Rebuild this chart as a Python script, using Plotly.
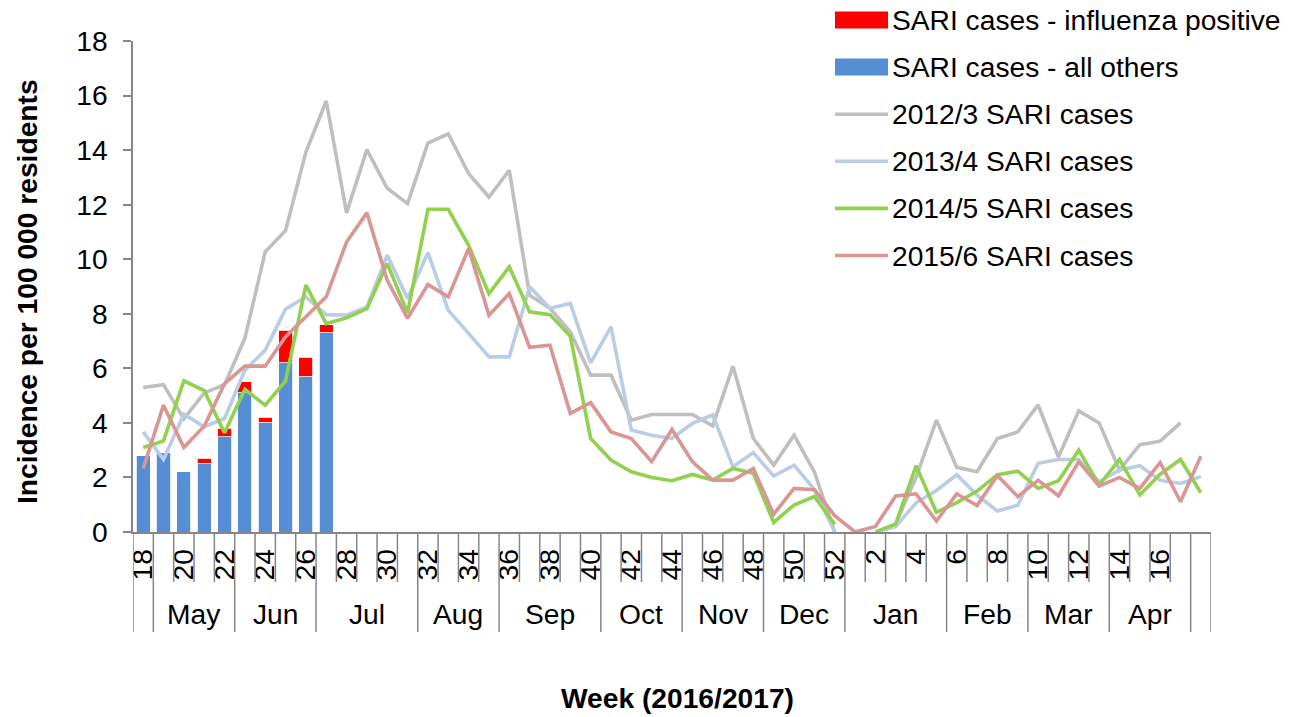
import plotly.graph_objects as go

# week axis: 18..52 of 2016, then 1..18 of 2017
weeks = list(range(18, 53)) + list(range(1, 19))
months = ['', 'May', 'Jun', 'Jul', 'Aug', 'Sep', 'Oct', 'Nov', 'Dec', 'Jan', 'Feb', 'Mar', 'Apr', '']
month_weeks = [1, 4, 4, 5, 4, 5, 4, 4, 4, 5, 4, 4, 4, 1]

# current season bars (weeks 18-27)
sari_flu = [0, 0, 0, 0.2, 0.3, 0.4, 0.2, 1.2, 0.7, 0.3]
sari_other = [2.8, 2.9, 2.2, 2.5, 3.5, 5.1, 4.0, 6.2, 5.7, 7.3]

# previous seasons
s2012 = [5.3, 5.4, 4.15, 5.1, 5.4, 7.1, 10.27, 11.05, 13.93, 15.8,
         11.7, 14.02, 12.6, 12.04, 14.26, 14.6, 13.14, 12.28, 13.26, 8.68,
         8.2, 7.34, 5.75, 5.75, 4.1, 4.31, 4.31, 4.31, 3.89, 6.08,
         3.43, 2.45, 3.55, 2.2, 0.0, None, None, 0.3, 2.0, 4.1,
         2.37, 2.21, 3.43, 3.67, 4.66, 2.75, 4.44, 4.0, 2.27, 3.2,
         3.33, 4.0, None]
s2013 = [3.67, 2.66, 4.32, 3.86, 4.16, 5.93, 6.67, 8.17, 8.62, 7.97,
         7.95, 8.25, 10.15, 8.56, 10.24, 8.13, 7.28, 6.42, 6.42, 8.99,
         8.2, 8.38, 6.2, 7.52, 3.74, 3.55, 3.43, 3.98, 4.29, 2.39,
         2.91, 2.05, 2.45, 1.56, 0.0, None, 0.0, 0.2, 1.07, 1.52,
         2.1, 1.35, 0.77, 0.98, 2.52, 2.66, 2.66, 1.84, 2.27, 2.43,
         1.9, 1.78, 2.03]
s2014 = [3.1, 3.34, 5.54, 5.18, 3.64, 5.23, 4.65, 5.54, 9.05, 7.64,
         7.85, 8.19, 9.84, 8.03, 11.83, 11.83, 10.51, 8.74, 9.72, 8.07,
         7.97, 7.18, 3.43, 2.64, 2.21, 2.0, 1.88, 2.11, 1.9, 2.33,
         2.15, 0.35, 0.99, 1.3, 0.28, None, 0.0, 0.3, 2.43, 0.72,
         1.08, 1.5, 2.1, 2.23, 1.6, 1.88, 3.0, 1.72, 2.66, 1.36,
         2.12, 2.66, 1.44]
s2015 = [2.33, 4.65, 3.1, 3.88, 5.44, 6.08, 6.08, 7.16, 7.89, 8.62,
         10.63, 11.7, 9.23, 7.83, 9.07, 8.62, 10.39, 7.95, 8.74, 6.77,
         6.85, 4.35, 4.74, 3.67, 3.43, 2.58, 3.76, 2.58, 1.9, 1.9,
         2.33, 0.65, 1.6, 1.55, 0.6, 0.0, 0.2, 1.32, 1.4, 0.4,
         1.4, 0.97, 2.07, 1.3, 1.9, 1.33, 2.58, 1.68, 2.0, 1.6,
         2.55, 1.11, 2.78]

bar_names = ['SARI cases - influenza positive', 'SARI cases - all others']
bar_colors = ['#FF0000', '#558ED5']
line_names = ['2012/3 SARI cases', '2013/4 SARI cases', '2014/5 SARI cases', '2015/6 SARI cases']
line_colors = ['#BFBFBF', '#B9CDE5', '#92D050', '#D99694']

FONT = 'Liberation Sans, Arial, sans-serif'
FS = 28.2
AXIS_COL = '#868686'

W, H = 1290, 717
L, R, T, B = 133, 79, 41, 185
PW, PH = W - L - R, H - T - B


def px(x):
    return (x - L) / PW


def py(y):
    return (H - B - y) / PH


idx = list(range(len(weeks)))
fig = go.Figure()

fig.add_trace(go.Bar(x=idx[:len(sari_other)], y=sari_other, marker_color=bar_colors[1],
                     marker_line=dict(color='white', width=0.8), width=0.69, showlegend=False))
fig.add_trace(go.Bar(x=idx[:len(sari_flu)], y=sari_flu, marker_color=bar_colors[0],
                     marker_line=dict(color='white', width=0.8), width=0.69, showlegend=False))

for vals, col in zip([s2012, s2013, s2014, s2015], line_colors):
    fig.add_trace(go.Scatter(x=idx, y=vals, mode='lines', connectgaps=False,
                             line=dict(color=col, width=3.6), showlegend=False))

# week tick labels: even weeks, last week left blank
tickvals = [i for i, w in enumerate(weeks) if w % 2 == 0 and i < len(weeks) - 1]
ticktext = [str(weeks[i]) for i in tickvals]

shapes = []
annotations = []

# category separators: short between weeks, long between months
bounds = [0]
for n in month_weeks:
    bounds.append(bounds[-1] + n)
for k in range(len(weeks) + 1):
    long_line = k in bounds
    shapes.append(dict(type='line', xref='x', yref='paper', x0=k - 0.5, x1=k - 0.5,
                       y0=0, y1=py(632) if long_line else py(582),
                       line=dict(color=AXIS_COL, width=1.5)))

for m, a, b in zip(months, bounds[:-1], bounds[1:]):
    if m:
        annotations.append(dict(text=m, xref='x', yref='paper', x=(a + b - 1) / 2, y=py(614),
                                showarrow=False, font=dict(family=FONT, size=FS, color='black'),
                                xanchor='center', yanchor='middle'))

# custom legend
leg_y0, leg_dy = 20, 47.1
items = [(bar_names[0], bar_colors[0], 'rect'), (bar_names[1], bar_colors[1], 'rect')]
items += [(n, c, 'line') for n, c in zip(line_names, line_colors)]
for k, (name, col, kind) in enumerate(items):
    yc = leg_y0 + k * leg_dy
    if kind == 'rect':
        shapes.append(dict(type='rect', xref='paper', yref='paper', x0=px(835), x1=px(888),
                           y0=py(yc + 8.5), y1=py(yc - 8.5), fillcolor=col, line=dict(width=0)))
    else:
        shapes.append(dict(type='line', xref='paper', yref='paper', x0=px(835), x1=px(888),
                           y0=py(yc), y1=py(yc), line=dict(color=col, width=3.6)))
    annotations.append(dict(text=name, xref='paper', yref='paper', x=px(890), y=py(yc),
                            xanchor='left', yanchor='middle', showarrow=False,
                            font=dict(family=FONT, size=FS, color='black')))

annotations.append(dict(text='<b>Week (2016/2017)</b>', xref='paper', yref='paper',
                        x=px(677), y=py(698), showarrow=False, xanchor='center', yanchor='middle',
                        borderpad=0, font=dict(family=FONT, size=FS, color='black')))
annotations.append(dict(text='<b>Incidence per 100 000 residents</b>', xref='paper', yref='paper',
                        x=px(27), y=py(292), showarrow=False, textangle=-90,
                        xanchor='center', yanchor='middle',
                        font=dict(family=FONT, size=FS, color='black')))

fig.update_layout(
    width=W, height=H,
    margin=dict(l=L, r=R, t=T, b=B),
    barmode='stack',
    plot_bgcolor='white', paper_bgcolor='white',
    font=dict(family=FONT, size=FS, color='black'),
    shapes=shapes, annotations=annotations,
    xaxis=dict(range=[-0.5, len(weeks) - 0.5], tickmode='array', tickvals=tickvals,
               ticktext=ticktext, tickangle=-90, ticks='', showgrid=False, zeroline=False,
               showline=True, linecolor=AXIS_COL, linewidth=1.5, ticklabelstandoff=4,
               tickfont=dict(family=FONT, size=FS, color='black')),
    yaxis=dict(range=[0, 18], dtick=2, ticks='outside', ticklen=8, tickwidth=1.5,
               tickcolor=AXIS_COL, showgrid=False, zeroline=False, showline=True,
               linecolor=AXIS_COL, linewidth=1.5, ticklabelstandoff=10,
               tickfont=dict(family=FONT, size=FS, color='black')),
)

# drop the default page margin so the figure fills the window exactly
fig.write_html("out.html", config={'displayModeBar': False},
               post_script="document.body.style.margin='0';")
